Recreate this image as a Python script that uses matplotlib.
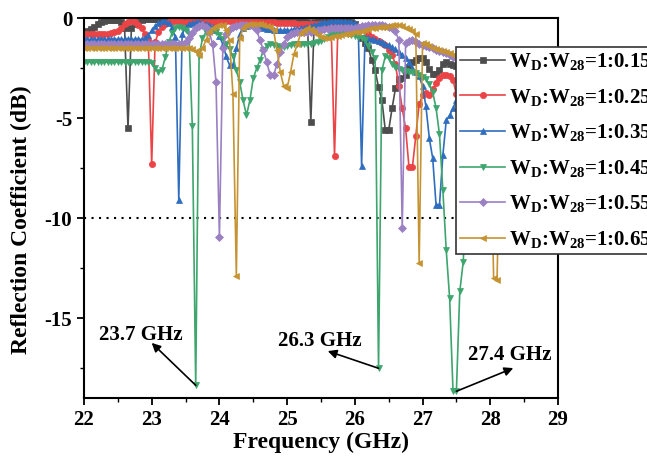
import matplotlib
matplotlib.use("Agg")
import matplotlib.pyplot as plt
import numpy as np
from matplotlib.ticker import MultipleLocator

plt.rcParams.update({
    "font.family": ["Liberation Serif", "DejaVu Serif"],
    "font.weight": "bold",
    "axes.labelweight": "bold",
    "mathtext.fontset": "custom",
    "mathtext.rm": "Liberation Serif:bold",
    "mathtext.it": "Liberation Serif:bold",
    "mathtext.bf": "Liberation Serif:bold",
    "axes.unicode_minus": False,
})

# Frequency sweep (GHz), 0.05 GHz step
freq = np.round(np.arange(22.0, 28.2001, 0.05), 2)

# Reflection coefficient (dB) for each W_D:W_28 ratio
s11_015 = [
    -0.7, -0.65, -0.55, -0.45, -0.3, -0.2, -0.15, -0.1, -0.1, -0.1,
    -0.1, -0.2, -0.5, -5.5, -0.5, -0.3, -0.2, -0.1, -0.05, -0.05,
    -0.05, -0.05, -0.05, -0.05, -0.1, -0.1, -0.1, -0.1, -0.1, -0.1,
    -0.1, -0.1, -0.1, -0.1, -0.1, -0.1, -0.1, -0.1, -0.1, -0.1,
    -0.1, -0.1, -0.1, -0.1, -0.1, -0.1, -0.1, -0.1, -0.1, -0.1,
    -0.1, -0.1, -0.1, -0.15, -0.15, -0.15, -0.15, -0.15, -0.15, -0.15,
    -0.15, -0.15, -0.15, -0.15, -0.15, -0.15, -0.2, -5.2, -0.2, -0.15,
    -0.15, -0.15, -0.15, -0.15, -0.15, -0.15, -0.15, -0.15, -0.2, -0.2,
    -0.3, -0.6, -1.0, -1.25, -1.5, -2.1, -2.6, -3.45, -4.1, -5.6,
    -5.6, -4.5, -3.5, -3.05, -3.0, -2.85, -2.45, -2.2, -2.1, -2.0,
    -2.0, -2.2, -2.55, -2.8, -2.8, -2.6, -2.3, -2.2, -2.3, -2.35,
    -2.4, -2.4, -2.5, -2.5, -2.5, -2.5, -2.5, -2.5, -2.5, -2.5,
    -2.5, -2.5, -2.5, -2.5, -2.5,
]
s11_025 = [
    -0.8, -0.8, -0.8, -0.8, -0.8, -0.8, -0.8, -0.8, -0.75, -0.7,
    -0.65, -0.5, -0.3, -0.2, -0.15, -0.2, -0.35, -0.5, -0.8, -1.1,
    -7.3, -1.2, -0.7, -0.45, -0.3, -0.2, -0.15, -0.15, -0.15, -0.2,
    -0.2, -0.2, -0.2, -0.2, -0.2, -0.2, -0.2, -0.2, -0.2, -0.2,
    -0.15, -0.15, -0.15, -0.15, -0.15, -0.15, -0.15, -0.15, -0.15, -0.15,
    -0.15, -0.15, -0.2, -0.2, -0.2, -0.2, -0.2, -0.25, -0.25, -0.25,
    -0.25, -0.25, -0.25, -0.3, -0.3, -0.3, -0.3, -0.3, -0.3, -0.3,
    -0.3, -0.3, -0.3, -0.35, -6.9, -0.35, -0.3, -0.3, -0.3, -0.35,
    -0.4, -0.45, -0.55, -0.65, -0.8, -0.95, -1.05, -1.15, -1.25, -1.35,
    -1.6, -1.85, -2.3, -3.4, -4.5, -5.5, -7.45, -7.45, -5.9, -4.3,
    -3.85, -3.75, -3.85, -3.55, -3.25, -3.0, -2.85, -2.85, -2.9, -3.1,
    -3.8, -4.3, -4.6, -4.6, -4.4, -4.0, -3.6, -3.3, -3.0, -2.8,
    -2.7, -2.6, -2.5, -2.5, -2.5,
]
s11_035 = [
    -1.05, -1.05, -1.05, -1.05, -1.05, -1.05, -1.05, -1.05, -1.05, -1.05,
    -1.05, -1.05, -1.05, -1.05, -1.05, -1.05, -1.05, -1.05, -1.0, -0.85,
    -0.6, -0.4, -0.25, -0.15, -0.15, -0.25, -0.45, -0.95, -9.1, -0.8,
    -0.45, -0.3, -0.25, -0.2, -0.2, -0.25, -0.3, -0.35, -0.45, -0.6,
    -0.9, -1.3, -1.9, -2.35, -2.35, -1.5, -0.8, -0.5, -0.4, -0.35,
    -0.35, -0.4, -0.45, -0.5, -0.55, -0.55, -0.6, -0.6, -0.6, -0.6,
    -0.6, -0.6, -0.55, -0.55, -0.5, -0.5, -0.45, -0.4, -0.35, -0.3,
    -0.25, -0.2, -0.2, -0.15, -0.15, -0.15, -0.15, -0.15, -0.2, -0.2,
    -0.25, -0.45, -7.4, -0.95, -1.0, -1.05, -1.1, -1.15, -1.2, -1.3,
    -1.35, -1.45, -1.55, -1.7, -1.85, -2.0, -2.2, -2.5, -2.7, -2.9,
    -3.4, -4.4, -6.0, -7.0, -9.35, -9.35, -6.85, -5.1, -4.85, -4.5,
    -4.1, -3.8, -3.5, -3.3, -3.1, -3.0, -2.9, -2.8, -2.8, -2.8,
    -2.8, -2.8, -2.8, -2.8, -2.8,
]
s11_045 = [
    -2.2, -2.2, -2.2, -2.2, -2.2, -2.2, -2.2, -2.2, -2.2, -2.2,
    -2.2, -2.2, -2.2, -2.2, -2.2, -2.2, -2.2, -2.2, -2.2, -2.2,
    -2.25, -2.5, -2.7, -2.6, -1.95, -1.2, -0.75, -0.5, -0.45, -0.5,
    -0.6, -0.8, -5.4, -18.35, -1.9, -1.0, -0.7, -0.6, -0.6, -0.7,
    -0.85, -1.05, -1.3, -1.55, -1.9, -2.6, -3.2, -4.1, -4.85, -4.1,
    -3.0, -2.5, -2.1, -1.6, -1.4, -1.3, -1.35, -1.4, -1.45, -1.45,
    -1.4, -1.35, -1.3, -1.3, -1.3, -1.3, -1.3, -1.3, -1.25, -1.2,
    -1.15, -1.05, -0.95, -0.85, -0.8, -0.75, -0.75, -0.75, -0.8, -0.85,
    -0.9, -0.95, -1.0, -1.1, -1.4, -1.7, -2.0, -17.5, -2.6, -1.9,
    -2.0, -2.3, -2.45, -2.55, -2.6, -2.65, -2.7, -2.7, -2.75, -2.85,
    -2.95, -3.05, -3.3, -3.7, -4.5, -5.8, -8.6, -11.6, -14.0, -18.65,
    -18.65, -13.65, -12.2, -9.0, -6.5, -5.0, -4.2, -3.7, -3.4, -3.2,
    -3.1, -3.0, -3.0, -3.0, -3.0,
]
s11_055 = [
    -1.3, -1.3, -1.3, -1.3, -1.3, -1.3, -1.3, -1.3, -1.3, -1.3,
    -1.3, -1.3, -1.3, -1.3, -1.3, -1.3, -1.3, -1.3, -1.3, -1.3,
    -1.3, -1.3, -1.3, -1.3, -1.3, -1.3, -1.3, -1.3, -1.3, -1.3,
    -1.2, -1.0, -0.75, -0.5, -0.4, -0.35, -0.45, -0.7, -1.3, -3.2,
    -10.95, -1.5, -0.8, -0.55, -0.45, -0.4, -0.35, -0.35, -0.35, -0.35,
    -0.4, -0.6, -1.1, -1.6, -2.2, -2.85, -2.85, -2.3, -1.7, -1.3,
    -0.95, -0.8, -0.75, -0.7, -0.7, -0.7, -0.7, -0.7, -0.65, -0.6,
    -0.6, -0.55, -0.55, -0.5, -0.5, -0.5, -0.5, -0.5, -0.5, -0.5,
    -0.5, -0.45, -0.4, -0.4, -0.35, -0.35, -0.35, -0.35, -0.35, -0.4,
    -0.45, -0.5, -0.65, -1.1, -10.5, -1.25, -1.15, -1.1, -1.2, -1.3,
    -1.35, -1.4, -1.45, -1.5, -1.6, -1.65, -1.7, -1.75, -1.85, -1.95,
    -2.0, -2.0, -2.05, -2.1, -2.1, -2.1, -2.1, -2.1, -2.1, -2.1,
    -2.1, -2.1, -2.1, -2.1, -2.1,
]
s11_065 = [
    -1.5, -1.5, -1.5, -1.5, -1.5, -1.5, -1.5, -1.5, -1.5, -1.5,
    -1.5, -1.5, -1.5, -1.5, -1.5, -1.5, -1.5, -1.5, -1.5, -1.5,
    -1.5, -1.5, -1.5, -1.5, -1.5, -1.5, -1.5, -1.5, -1.5, -1.5,
    -1.5, -1.5, -1.55, -1.65, -1.85, -1.5, -1.1, -0.7, -0.5, -0.4,
    -0.35, -0.35, -0.6, -1.1, -3.8, -12.9, -1.0, -0.5, -0.35, -0.3,
    -0.3, -0.3, -0.3, -0.35, -0.4, -0.45, -0.6, -1.6, -2.7, -3.4,
    -3.5, -2.7, -1.8, -1.3, -0.75, -0.6, -0.5, -0.55, -0.7, -0.85,
    -0.95, -1.0, -1.0, -0.95, -0.9, -0.9, -0.85, -0.8, -0.8, -0.75,
    -0.7, -0.7, -0.65, -0.6, -0.55, -0.5, -0.5, -0.45, -0.45, -0.45,
    -0.4, -0.35, -0.35, -0.35, -0.4, -0.5, -0.55, -0.65, -0.8, -12.25,
    -1.25, -1.3, -1.4, -1.5, -1.55, -1.6, -1.65, -1.7, -1.75, -1.85,
    -1.9, -2.0, -2.1, -2.2, -2.3, -2.4, -2.5, -2.6, -2.8, -3.0,
    -5.0, -13.0, -13.1, -5.0, -3.0,
]

ratios = ["0.15", "0.25", "0.35", "0.45", "0.55", "0.65"]
series = [s11_015, s11_025, s11_035, s11_045, s11_055, s11_065]
colors = ["#4d4d4d", "#ea4447", "#2f6dbf", "#3da56d", "#9b80c2", "#c69332"]
markers = ["s", "o", "^", "v", "D", "<"]
marker_sizes = [4, 4.5, 4.5, 4.5, 4, 4.5]

fig = plt.figure(figsize=(6.47, 4.62), dpi=100)
ax = fig.add_axes([0.1298, 0.1379, 0.7326, 0.8225])

for vals, col, mk, ms, r in zip(series, colors, markers, marker_sizes, ratios):
    ax.plot(freq, vals, color=col, marker=mk, ms=ms, mew=0.5, lw=1.2,
            label=r"W$_{\rm D}$:W$_{\rm 28}$=1:" + r)

ax.axhline(-10, color="black", lw=1.5, ls=(0, (1, 2.6)), zorder=1)

ax.set_xlim(22, 29)
ax.set_ylim(-19, 0)
ax.set_xticks(range(22, 30))
ax.set_yticks([0, -5, -10, -15])
ax.xaxis.set_minor_locator(MultipleLocator(0.5))
ax.yaxis.set_minor_locator(MultipleLocator(2.5))
ax.tick_params(which="major", direction="out", length=5, width=1.3, labelsize=15)
ax.tick_params(which="minor", direction="out", length=3, width=1.0)
for sp in ax.spines.values():
    sp.set_linewidth(1.5)

ax.set_xlabel("Frequency (GHz)", fontsize=17, labelpad=1)
ax.set_ylabel("Reflection Coefficient (dB)", fontsize=17)
ax.yaxis.set_label_coords(-0.11, 0.47)

arrow = dict(arrowstyle="-|>", color="black", lw=1.2, mutation_scale=13,
             shrinkA=0, shrinkB=0)
notes = [
    ("23.7 GHz", (22.84, -15.84), (23.65, -18.35), (23.00, -16.23)),
    ("26.3 GHz", (25.49, -16.13), (26.35, -17.5), (25.60, -16.64)),
    ("27.4 GHz", (28.29, -16.83), (27.50, -18.65), (28.34, -17.49)),
]
for txt, pos, tail, head in notes:
    ax.annotate("", xy=head, xytext=tail, arrowprops=arrow)
    ax.text(pos[0], pos[1], txt, fontsize=15, ha="center", va="center")

leg = ax.legend(loc="upper left", bbox_to_anchor=(0.785, 0.9245),
                borderaxespad=0, fontsize=15, frameon=True, fancybox=False,
                edgecolor="#333333", framealpha=1, handlelength=2.15,
                handletextpad=0.2, labelspacing=0.7, borderpad=0.2)
leg.get_frame().set_linewidth(1.2)

fig.savefig("out.png", dpi=100)
